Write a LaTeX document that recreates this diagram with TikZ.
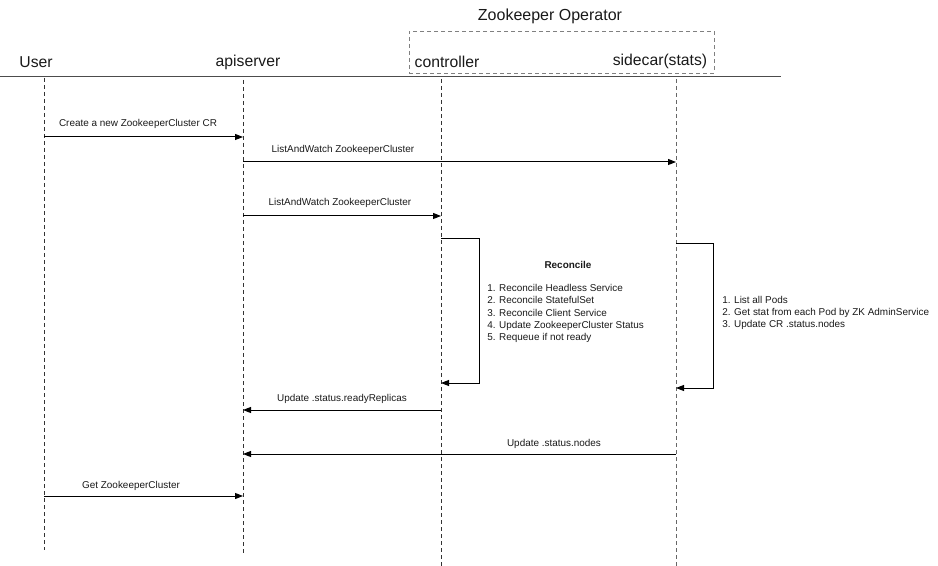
\documentclass[tikz,border=0pt]{standalone}
\usepackage{fontspec}
\setmainfont{Liberation Sans}
\usetikzlibrary{arrows.meta}
\begin{document}
\begin{tikzpicture}[x=0.75pt,y=-0.75pt,
  lifeline/.style={draw=black!80, line width=0.7pt, dash pattern=on 3pt off 2.25pt},
  msg/.style={draw=black, line width=0.75pt, -{Triangle[length=6pt,width=4.5pt]}},
  actor/.style={font=\fontsize{11.8pt}{13pt}\selectfont, inner sep=0pt, text=black!90},
  title/.style={font=\fontsize{12pt}{14pt}\selectfont, inner sep=0pt, text=black!90},
  lbl/.style={font=\fontsize{7.45pt}{9pt}\selectfont, inner sep=0pt, text=black!90},
  listtxt/.style={font=\fontsize{7.45pt}{9.15pt}\selectfont, inner sep=0pt, align=left, anchor=west, text=black!90},
  groupbox/.style={draw=black!50, line width=0.6pt, dash pattern=on 3pt off 2.25pt, minimum width=305*0.75pt, minimum height=42*0.75pt, inner sep=0pt},
  headline/.style={draw=black!70, line width=0.9pt}]
\useasboundingbox (0,0) rectangle (938,566);

% header
\node[title] (op) at (550,16) {Zookeeper Operator};
\node[groupbox] (opbox) at (561.5,52) {};
\node[actor] (user) at (36,62) {User};
\node[actor] (api) at (248,62) {apiserver};
\node[actor] (ctrl) at (447,62) {controller};
\node[actor] (side) at (660,61) {sidecar(stats)};
\coordinate (hlL) at (0,76.5);
\coordinate (hlR) at (781,76.5);
\draw[headline] (hlL) -- (hlR);

% lifelines
\coordinate (uT) at (44,78);  \coordinate (uB) at (44,550);
\coordinate (aT) at (243,80); \coordinate (aB) at (243,553);
\coordinate (cT) at (441,79); \coordinate (cB) at (441,566);
\coordinate (sT) at (676,79); \coordinate (sB) at (676,566);
\draw[lifeline] (uT) -- (uB);
\draw[lifeline] (aT) -- (aB);
\draw[lifeline] (cT) -- (cB);
\draw[lifeline, draw=black!60] (sT) -- (sB);

% messages
\draw[msg] (uT |- 0,137) -- (aT |- 0,137);
\node[lbl] (l1) at (138,124) {Create a new ZookeeperCluster CR};

\draw[msg] (aT |- 0,162) -- (sT |- 0,162);
\node[lbl] (l2) at (343,150) {ListAndWatch ZookeeperCluster};

\draw[msg] (aT |- 0,216) -- (cT |- 0,216);
\node[lbl] (l3) at (340,203) {ListAndWatch ZookeeperCluster};

% controller reconcile loop
\coordinate (cl1) at (479,239);
\coordinate (cl2) at (479,383);
\draw[msg] (cT |- cl1) -- (cl1) -- (cl2) -- (cT |- cl2);
\node[lbl, font=\fontsize{7.45pt}{9pt}\selectfont\bfseries] (rec) at (568,265) {Reconcile};
\node[listtxt] (reclist) at (487,313.5) {1. Reconcile Headless Service\\2. Reconcile StatefulSet\\3. Reconcile Client Service\\4. Update ZookeeperCluster Status\\5. Requeue if not ready};

% sidecar loop
\coordinate (sl1) at (713,244);
\coordinate (sl2) at (713,388);
\draw[msg] (sT |- sl1) -- (sl1) -- (sl2) -- (sT |- sl2);
\node[listtxt, font=\fontsize{7.45pt}{8.9pt}\selectfont] (sidelist) at (722,313) {1. List all Pods\\2. Get stat from each Pod by ZK AdminService\\3. Update CR .status.nodes};

% replies
\draw[msg] (cT |- 0,410) -- (aT |- 0,410);
\node[lbl] (l4) at (342,399) {Update .status.readyReplicas};

\draw[msg] (sT |- 0,454) -- (aT |- 0,454);
\node[lbl] (l5) at (554,444) {Update .status.nodes};

\draw[msg] (uT |- 0,496) -- (aT |- 0,496);
\node[lbl] (l6) at (131,486) {Get ZookeeperCluster};
\end{tikzpicture}
\end{document}
